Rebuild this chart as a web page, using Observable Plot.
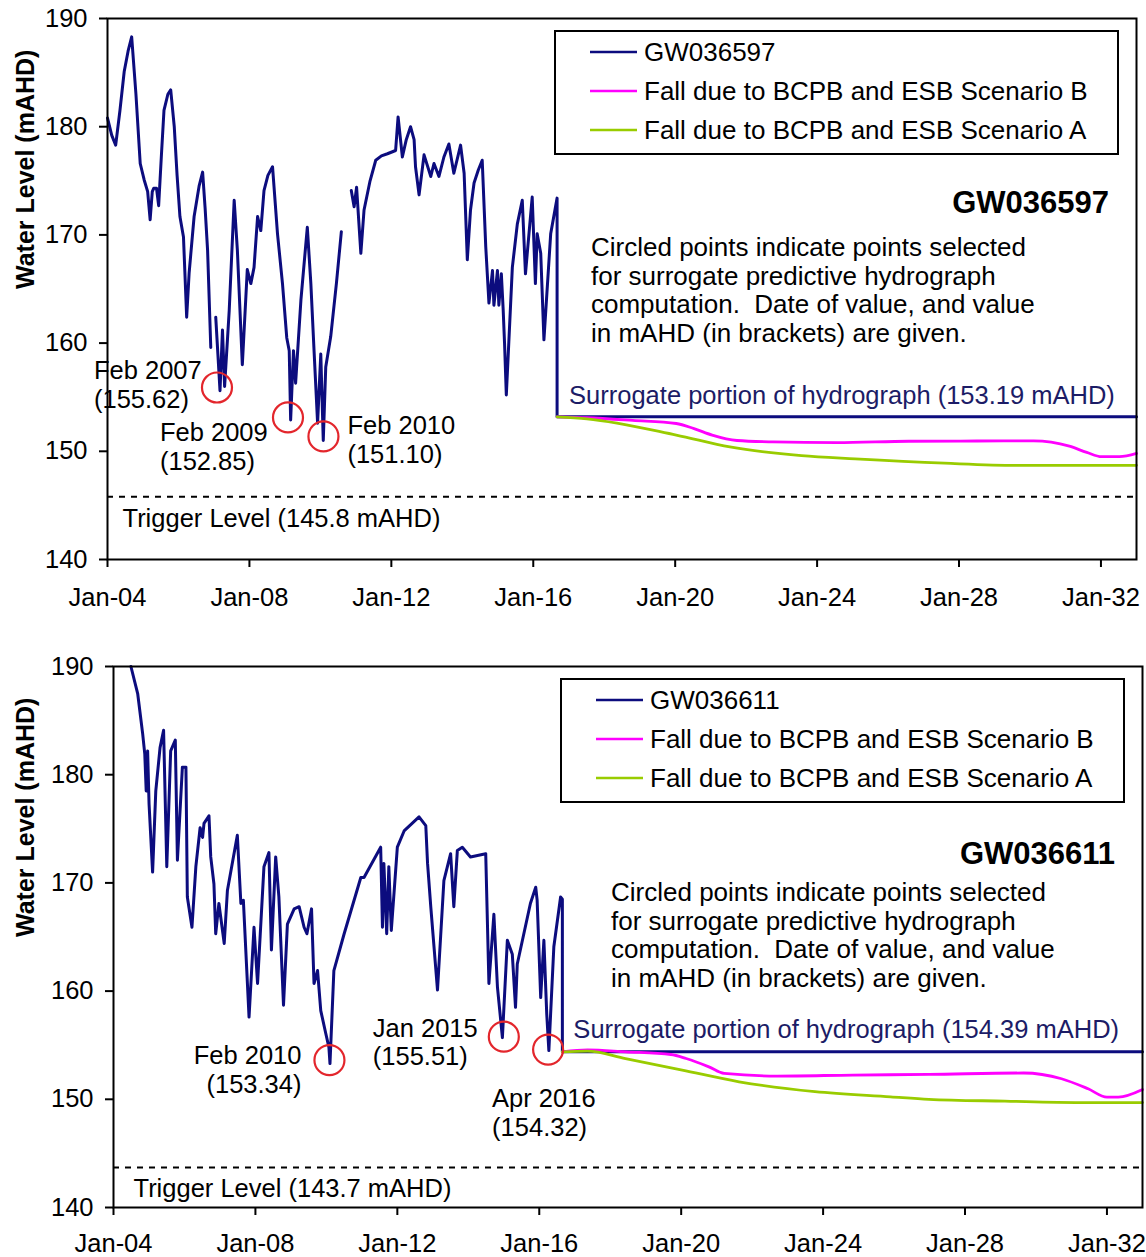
<!DOCTYPE html>
<html>
<head>
<meta charset="utf-8">
<script src="https://cdn.jsdelivr.net/npm/d3@7"></script>
<script src="https://cdn.jsdelivr.net/npm/@observablehq/plot@0.6"></script>
<style>
  html, body { margin: 0; padding: 0; background: #ffffff; }
  #chart { width: 1146px; }
  #chart svg { display: block; }
  #chart svg text { white-space: pre; }
  #chart svg g[aria-label$="axis tick"] path, #chart svg .tick line { stroke-width: 2px; }
</style>
</head>
<body>
<div id="chart"></div>
<script>
// ---------------- shared axis values ----------------
const xStartYear = 2004;
const xEndYear = 2033;
const xTickYears = [2004, 2008, 2012, 2016, 2020, 2024, 2028, 2032];
const yDomain = [140, 190];
const yTicks = [140, 150, 160, 170, 180, 190];
const yLabel = "Water Level (mAHD)";
const scenBLabel = "Fall due to BCPB and ESB Scenario B";
const scenALabel = "Fall due to BCPB and ESB Scenario A";
const noteLines = [
  "Circled points indicate points selected",
  "for surrogate predictive hydrograph",
  "computation.  Date of value, and value",
  "in mAHD (in brackets) are given."
];

// ---------------- GW036597 (upper chart) ----------------
const bore1 = "GW036597";
const bore1Years = [
  2004.00,2004.03,2004.12,2004.23,2004.35,2004.47,2004.58,2004.68,2004.80,2004.92,
  2005.03,2005.13,2005.20,2005.26,2005.30,2005.38,2005.44,2005.52,2005.59,2005.70,
  2005.78,2005.88,2005.96,2006.04,2006.14,2006.23,2006.30,2006.44,2006.58,2006.68,
  2006.75,2006.82,2006.91,2006.98,2007.05,2007.11,2007.17,2007.24,2007.30,2007.43,
  2007.57,2007.66,2007.80,2007.94,2008.04,2008.13,2008.23,2008.32,2008.41,2008.52,
  2008.65,2008.79,2008.93,2009.05,2009.12,2009.16,2009.24,2009.30,2009.45,2009.63,
  2009.73,2009.82,2009.92,2010.01,2010.08,2010.15,2010.29,2010.45,2010.59,2010.73,
  2010.87,2010.95,2011.02,2011.14,2011.23,2011.40,2011.56,2011.72,2011.89,2012.12,
  2012.19,2012.31,2012.42,2012.54,2012.64,2012.68,2012.78,2012.92,2013.11,2013.20,
  2013.34,2013.48,2013.62,2013.76,2013.95,2014.05,2014.14,2014.23,2014.33,2014.45,
  2014.56,2014.66,2014.75,2014.85,2014.89,2014.99,2015.03,2015.10,2015.15,2015.19,
  2015.24,2015.41,2015.55,2015.69,2015.78,2015.97,2016.06,2016.11,2016.21,2016.30,
  2016.49,2016.67
];
const bore1Levels = [
  180.8,180.4,179.2,178.3,181.5,185.1,187.0,188.3,183.0,176.6,
  175.1,174.0,171.4,174.0,174.3,174.3,172.7,177.5,181.5,183.0,
  183.4,180.0,175.5,171.7,169.8,162.4,166.5,171.7,174.5,175.8,
  172.5,168.6,159.6,NaN,162.4,159.0,155.6,161.2,156.0,163.0,
  173.2,168.6,158.0,166.8,165.5,167.0,171.7,170.4,174.1,175.5,
  176.3,170.1,165.5,160.5,159.3,152.9,159.3,156.3,164.0,170.7,
  165.5,159.3,152.6,159.0,151.0,157.8,160.6,165.5,170.3,NaN,
  174.1,172.6,174.4,168.3,172.3,175.0,176.9,177.3,177.5,177.8,
  180.9,177.2,178.8,180.0,178.8,176.3,173.7,177.4,175.4,176.6,
  175.4,177.2,178.4,175.7,178.3,175.7,167.7,172.3,174.8,176.0,
  176.9,168.9,163.7,166.7,163.5,166.7,163.5,166.4,163.2,160.0,
  155.2,167.0,171.0,173.2,166.4,173.5,165.5,170.1,168.3,160.3,
  170.1,173.4
];
const bore1Surrogate = 153.19;
const bore1Trigger = 145.8;
const bore1ScenBYears  = [2016.67,2017.51,2018.80,2020.03,2020.53,2021.04,2021.74,2022.75,2024.56,2026.58,2028.50,2030.10,2031.11,2031.60,2032.02,2032.52,2033.00];
const bore1ScenBLevels = [153.19, 153.10, 152.85, 152.57, 152.10, 151.50, 151.00, 150.87, 150.80, 150.93, 150.95, 150.96, 150.47, 149.90, 149.50, 149.50, 149.80];
const bore1ScenAYears  = [2016.67,2017.51,2020.03,2021.54,2023.56,2025.07,2027.59,2029.60,2033.00];
const bore1ScenALevels = [153.19, 153.00, 151.50, 150.40, 149.60, 149.30, 148.90, 148.70, 148.70];
const bore1CircleDates  = ["Feb 2007", "Feb 2009", "Feb 2010"];
const bore1CircleLevels = [155.62, 152.85, 151.10];

// ---------------- GW036611 (lower chart) ----------------
const bore2 = "GW036611";
const bore2Years = [
  2004.49,2004.68,2004.82,2004.88,2004.92,2004.96,2005.00,2005.10,2005.19,2005.31,
  2005.41,2005.50,2005.61,2005.74,2005.80,2005.94,2006.04,2006.08,2006.21,2006.32,
  2006.44,2006.51,2006.55,2006.69,2006.74,2006.83,2006.88,2006.97,2007.12,2007.21,
  2007.49,2007.59,2007.66,2007.82,2007.96,2008.06,2008.24,2008.38,2008.45,2008.57,
  2008.66,2008.79,2008.90,2009.09,2009.23,2009.37,2009.45,2009.58,2009.65,2009.75,
  2009.84,2009.98,2010.07,2010.10,2010.21,2010.50,2010.97,2011.06,2011.53,2011.58,
  2011.62,2011.70,2011.76,2011.83,2012.00,2012.19,2012.61,2012.80,2012.85,2012.94,
  2013.13,2013.31,2013.50,2013.59,2013.69,2013.83,2014.06,2014.49,2014.58,2014.72,
  2014.82,2014.96,2015.10,2015.24,2015.33,2015.38,2015.75,2015.90,2015.94,2016.04,
  2016.13,2016.21,2016.27,2016.41,2016.60,2016.65
];
const bore2Levels = [
  190.0,187.5,183.8,181.9,178.5,182.2,177.3,171.0,178.5,182.5,
  184.1,171.5,182.2,183.2,172.1,180.7,180.7,168.7,165.9,171.5,
  175.1,174.2,175.5,176.2,172.4,169.9,165.3,168.1,164.4,169.3,
  174.4,168.1,168.4,157.6,165.9,160.7,171.5,172.8,163.8,172.4,
  168.7,158.7,166.2,167.6,167.8,165.9,165.3,167.6,160.7,161.9,
  158.2,156.1,154.8,153.3,161.9,165.3,170.5,170.5,173.3,165.9,
  171.8,165.3,171.5,165.6,173.3,174.8,176.1,175.3,171.8,167.8,
  160.1,170.2,172.7,167.8,173.0,173.3,172.4,172.7,160.7,167.1,
  160.4,155.7,164.7,163.4,158.5,162.5,168.1,169.6,168.4,159.4,
  164.7,157.9,154.5,164.1,168.7,168.5
];
const bore2Surrogate = 154.39;
const bore2Trigger = 143.7;
const bore2ScenBYears  = [2016.65,2017.36,2018.43,2019.71,2020.14,2020.78,2021.21,2022.70,2024.84,2026.98,2029.65,2030.72,2031.47,2032.00,2032.32,2033.00];
const bore2ScenBLevels = [154.39, 154.57, 154.39, 154.14, 153.77, 153.00, 152.39, 152.15, 152.24, 152.30, 152.43, 151.90, 150.97, 150.20, 150.20, 150.90];
const bore2ScenAYears  = [2016.65,2017.36,2018.43,2020.03,2021.63,2023.77,2025.90,2026.98,2029.12,2031.25,2033.00];
const bore2ScenALevels = [154.39, 154.45, 153.77, 152.70, 151.62, 150.70, 150.23, 150.00, 149.83, 149.70, 149.70];
const bore2CircleDates  = ["Feb 2010", "Jan 2015", "Apr 2016"];
const bore2CircleLevels = [153.34, 155.51, 154.32];

// ---------------- styles ----------------
const FONT = '"Liberation Sans", Arial, Helvetica, sans-serif';
const NAVY = "#0c0c7e";
const NAVY_TEXT = "#1c1c66";
const MAGENTA = "#ff00ff";
const GREEN = "#99cc00";
const RED = "#e3262c";

function yearToDate(y) {
  const yr = Math.floor(y);
  const a = Date.UTC(yr, 0, 1), b = Date.UTC(yr + 1, 0, 1);
  return new Date(a + (y - yr) * (b - a));
}
const parseMonth = d3.utcParse("%b %Y");

function panel(p, L) {
  const obs = p.years.map((y, i) => ({date: yearToDate(y), level: p.levels[i]}));
  const last = obs[obs.length - 1];
  const hydro = obs.concat([
    {date: last.date, level: p.surrogate},
    {date: yearToDate(xEndYear), level: p.surrogate}
  ]);
  const scenB = p.bYears.map((y, i) => ({date: yearToDate(y), level: p.bLevels[i]}));
  const scenA = p.aYears.map((y, i) => ({date: yearToDate(y), level: p.aLevels[i]}));
  const circles = p.circleDates.map((s, i) => ({label: s, date: parseMonth(s), level: p.circleLevels[i]}));

  const marks = [
    Plot.ruleY([p.trigger], {stroke: "black", strokeWidth: 2, strokeDasharray: "6,6"}),
    Plot.text([p.trigger], {y: d => d, frameAnchor: "left", text: d => `Trigger Level (${d} mAHD)`,
      textAnchor: "start", dx: L.triggerDx, dy: L.triggerDy, fill: "black"}),
    Plot.line(hydro, {x: "date", y: "level", stroke: NAVY, strokeWidth: 3, strokeLinejoin: "round"}),
    Plot.line(scenB, {x: "date", y: "level", stroke: MAGENTA, strokeWidth: 2.8, curve: "monotone-x"}),
    Plot.line(scenA, {x: "date", y: "level", stroke: GREEN, strokeWidth: 2.8, curve: "monotone-x"}),
    Plot.text([{date: last.date, level: p.surrogate}], {x: "date", y: "level",
      text: d => `Surrogate portion of hydrograph (${d.level.toFixed(2)} mAHD)`,
      textAnchor: "start", dx: L.surDx, dy: L.surDy, fill: NAVY_TEXT}),
    Plot.dot(circles, {x: "date", y: "level", r: 15, stroke: RED, strokeWidth: 2.2, fill: "none", dy: -3}),
    ...circles.map((c, i) => Plot.text([c], {x: "date", y: "level",
      text: d => `${d.label}\n(${d.level.toFixed(2)})`, lineHeight: 1.13,
      textAnchor: L.labels[i].anchor, dx: L.labels[i].dx, dy: L.labels[i].dy, fill: "black"})),
    Plot.text([yLabel], {frameAnchor: "left", text: d => d, rotate: -90, dx: L.yLabelDx,
      fontWeight: "bold", fontSize: 25, fill: "black"}),
    Plot.frame({stroke: "black", strokeWidth: 2})
  ];

  const svg = Plot.plot({
    width: 1146,
    height: L.height,
    marginLeft: L.ml, marginRight: L.mr, marginTop: L.mt, marginBottom: L.mb,
    style: {fontFamily: FONT, fontSize: "25.5px", color: "black", background: "white", overflow: "visible"},
    x: {type: "utc", domain: [yearToDate(xStartYear), yearToDate(xEndYear)],
        ticks: xTickYears.map(yearToDate), tickFormat: d3.utcFormat("%b-%y"),
        tickSize: 8, tickPadding: L.xPad, label: null},
    y: {domain: yDomain, ticks: yTicks, tickSize: 8, tickPadding: 12, label: null},
    marks
  });

  // legend, bore title and note (positioned relative to the plot frame)
  const s = d3.select(svg);
  const ox = L.ml, oy = L.mt;
  const lg = s.append("g").attr("transform", `translate(${ox + 448},${oy + 13})`)
    .attr("font-family", FONT).attr("font-size", 26).attr("text-anchor", "start");
  lg.append("rect").attr("width", 563).attr("height", 123)
    .attr("fill", "white").attr("stroke", "black").attr("stroke-width", 2);
  const items = [[p.name, NAVY], [scenBLabel, MAGENTA], [scenALabel, GREEN]];
  items.forEach(([label, color], i) => {
    const cy = 21 + i * 39;
    lg.append("line").attr("x1", 35).attr("x2", 82).attr("y1", cy).attr("y2", cy)
      .attr("stroke", color).attr("stroke-width", 2.5);
    lg.append("text").attr("x", 89).attr("y", cy).attr("dy", "0.35em")
      .attr("text-anchor", "start").attr("fill", "black").text(label);
  });
  s.append("text").attr("x", ox + 1002).attr("y", oy + L.titleDy).attr("dy", "0.35em")
    .attr("text-anchor", "end").attr("font-family", FONT).attr("font-weight", "bold")
    .attr("font-size", 31).attr("fill", "black").text(p.name);
  const nt = s.append("g").attr("font-family", FONT).attr("font-size", 26)
    .attr("fill", "black").attr("text-anchor", "start");
  noteLines.forEach((t, i) => {
    nt.append("text").attr("x", ox + L.noteDx).attr("y", oy + L.noteDy + i * 28.5)
      .attr("dy", "0.35em").attr("text-anchor", "start").text(t);
  });
  return svg;
}

const chart = document.getElementById("chart");
chart.appendChild(panel(
  {name: bore1, years: bore1Years, levels: bore1Levels, surrogate: bore1Surrogate, trigger: bore1Trigger,
   bYears: bore1ScenBYears, bLevels: bore1ScenBLevels, aYears: bore1ScenAYears, aLevels: bore1ScenALevels,
   circleDates: bore1CircleDates, circleLevels: bore1CircleLevels},
  {height: 636, ml: 107, mr: 10, mt: 18, mb: 77, xPad: 20, yLabelDx: -82,
   triggerDx: 15, triggerDy: 22, surDx: 12, surDy: -21, titleDy: 184, noteDx: 484, noteDy: 229,
   labels: [{anchor: "start", dx: -123, dy: -6}, {anchor: "start", dx: -128, dy: 26}, {anchor: "start", dx: 24, dy: 0}]}
));
chart.appendChild(panel(
  {name: bore2, years: bore2Years, levels: bore2Levels, surrogate: bore2Surrogate, trigger: bore2Trigger,
   bYears: bore2ScenBYears, bLevels: bore2ScenBLevels, aYears: bore2ScenAYears, aLevels: bore2ScenALevels,
   circleDates: bore2CircleDates, circleLevels: bore2CircleLevels},
  {height: 621, ml: 113, mr: 4, mt: 30, mb: 50, xPad: 18, yLabelDx: -88,
   triggerDx: 20, triggerDy: 21, surDx: 11, surDy: -22, titleDy: 187, noteDx: 498, noteDy: 226,
   labels: [{anchor: "end", dx: -28, dy: 6}, {anchor: "start", dx: -131, dy: 2}, {anchor: "start", dx: -56, dy: 60}]}
));
</script>
</body>
</html>
